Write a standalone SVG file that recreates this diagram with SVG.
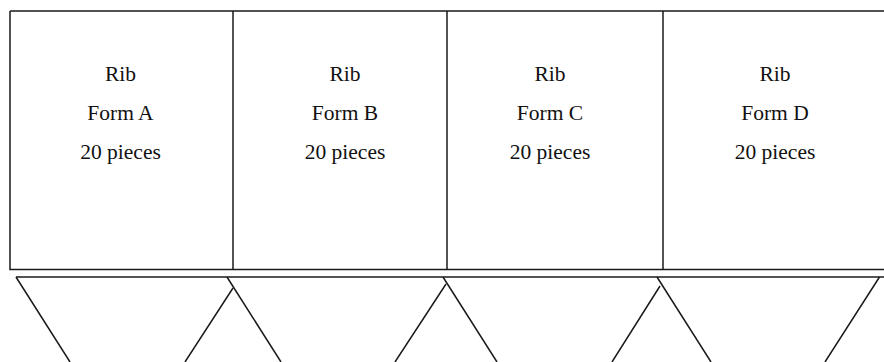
<svg xmlns="http://www.w3.org/2000/svg" width="884" height="362" viewBox="0 0 884 362">
<style>
.l{stroke:#1a1a1a;stroke-width:1.5;fill:none}
.t{font-family:"Liberation Serif","Times New Roman",serif;font-size:21.5px;fill:#111;text-anchor:middle}
</style>
<rect width="884" height="362" fill="#fff"/>
<g id="frame">
<path class="l" d="M10,11 H884 M10,11 V269.5 H884"/>
</g>
<g id="formA">
<path class="l" d="M233,11 V269.5"/>
<text class="t" x="120.5" y="81">Rib</text>
<text class="t" x="120.5" y="120">Form A</text>
<text class="t" x="120.5" y="159">20 pieces</text>
</g>
<g id="formB">
<path class="l" d="M447,11 V269.5"/>
<text class="t" x="345" y="81">Rib</text>
<text class="t" x="345" y="120">Form B</text>
<text class="t" x="345" y="159">20 pieces</text>
</g>
<g id="formC">
<path class="l" d="M663,11 V269.5"/>
<text class="t" x="550" y="81">Rib</text>
<text class="t" x="550" y="120">Form C</text>
<text class="t" x="550" y="159">20 pieces</text>
</g>
<g id="formD">
<text class="t" x="775" y="81">Rib</text>
<text class="t" x="775" y="120">Form D</text>
<text class="t" x="775" y="159">20 pieces</text>
</g>
<g id="hoppers">
<path class="l" d="M16,277 H884"/>
<path class="l" d="M16,277 L70,362 M185,362 L233,288"/>
<path class="l" d="M227,277 L281,362 M395,362 L446,284"/>
<path class="l" d="M443,277 L497,362 M612,362 L660,286"/>
<path class="l" d="M657,277 L711,362 M825,362 L879.5,277"/>
</g>
</svg>
